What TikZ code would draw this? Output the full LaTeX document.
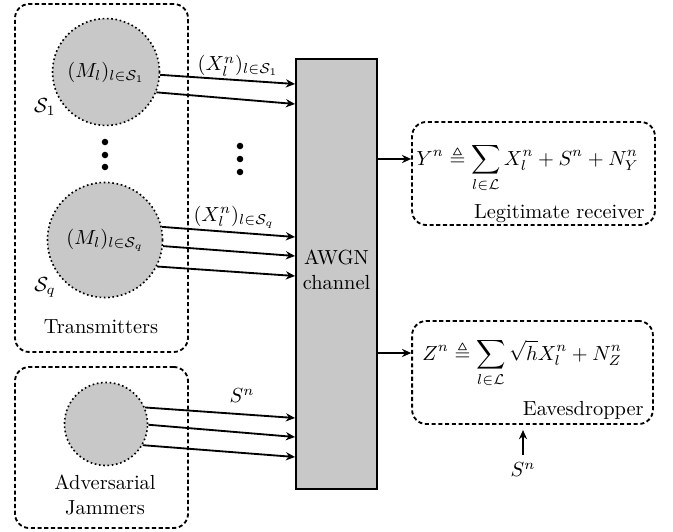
\documentclass[tikz,border=0pt]{standalone}
\usepackage{amsmath,amssymb}
\usetikzlibrary{arrows.meta}
\definecolor{fillgray}{RGB}{200,200,200}
\begin{document}
\begin{tikzpicture}[x=0.49pt,y=-0.49pt,
  groupbox/.style={draw, line width=0.9pt, dash pattern=on 2pt off 1.3pt, rounded corners=7pt, inner sep=0pt},
  srcnode/.style={circle, draw, fill=fillgray, line width=0.8pt, dash pattern=on 0.8pt off 1.3pt, inner sep=0pt},
  chan/.style={draw, fill=fillgray, line width=0.9pt, inner sep=0pt, align=center},
  arr/.style={line width=0.9pt, -{Stealth[length=4.5pt,width=4pt]}},
  dotmark/.style={circle, fill=black, inner sep=0pt, minimum size=3.2pt},
  lbl/.style={inner sep=0pt}
]
\useasboundingbox (0,0) rectangle (673,531);

% boxes
\node[groupbox, minimum width=84.8pt, minimum height=170.5pt] (tx) at (101.5,178) {};
\node[groupbox, minimum width=84.8pt, minimum height=78.9pt] (jam) at (101.5,447.5) {};
\node[chan, minimum width=39.7pt, minimum height=210.7pt] (awgn) at (336.5,274) {};
\node[lbl, align=center] (awgntxt) at (336.5,270) {AWGN\\channel};
\node[groupbox, minimum width=119pt, minimum height=50.5pt] (rx) at (533.5,173.5) {};
\node[groupbox, minimum width=118pt, minimum height=50.5pt] (eve) at (532.5,372.5) {};

% sources
\node[srcnode, minimum size=52.4pt] (c1) at (106,72) {$(M_l)_{l\in\mathcal{S}_1}$};
\node[srcnode, minimum size=56.4pt] (c2) at (105,240) {$(M_l)_{l\in\mathcal{S}_q}$};
\node[srcnode, minimum size=40.7pt] (c3) at (106,424) {};

\node[lbl] (s1) at (45,107) {$\mathcal{S}_1$};
\node[lbl] (sq) at (45,287) {$\mathcal{S}_q$};
\node[lbl] (txlbl) at (101,327) {Transmitters};
\node[lbl, align=center] (jamlbl) at (105,495) {Adversarial\\Jammers};

% dots
\node[dotmark] (d1) at (105,142) {};
\node[dotmark] (d2) at (105,155) {};
\node[dotmark] (d3) at (105,167) {};
\node[dotmark] (d4) at (240,146) {};
\node[dotmark] (d5) at (240,159) {};
\node[dotmark] (d6) at (240,172) {};

% end coordinates
\coordinate (e1) at (0,84);
\coordinate (e2) at (0,104);
\coordinate (e3) at (0,237);
\coordinate (e4) at (0,256);
\coordinate (e5) at (0,276);
\coordinate (e6) at (0,418);
\coordinate (e7) at (0,437);
\coordinate (e8) at (0,457);
\coordinate (ry) at (0,159);
\coordinate (zy) at (0,353);

\draw[arr] (c1.-3) -- (awgn.west |- e1);
\draw[arr] (c1.-22) -- (awgn.west |- e2);
\draw[arr] (c2.13) -- (awgn.west |- e3);
\draw[arr] (c2.-6) -- (awgn.west |- e4);
\draw[arr] (c2.-27) -- (awgn.west |- e5);
\draw[arr] (c3.23) -- (awgn.west |- e6);
\draw[arr] (c3.-1) -- (awgn.west |- e7);
\draw[arr] (c3.-30) -- (awgn.west |- e8);

\node[lbl] (x1) at (238,66) {$(X_l^n)_{l\in\mathcal{S}_1}$};
\node[lbl] (xq) at (234,217) {$(X_l^n)_{l\in\mathcal{S}_q}$};
\node[lbl] (sj) at (242,396) {$S^n$};

% outputs
\draw[arr] (awgn.east |- ry) -- (rx.west |- ry);
\draw[arr] (awgn.east |- zy) -- (eve.west |- zy);

\node[lbl, anchor=base west] (yf) at (416,165) {$\displaystyle Y^n \triangleq \sum_{l\in\mathcal{L}} X_l^n + S^n + N_Y^n$};
\node[lbl, anchor=base east] (rxlbl) at (645,218) {Legitimate receiver};
\node[lbl, anchor=base west] (zf) at (422,360) {$\displaystyle Z^n \triangleq \sum_{l\in\mathcal{L}} \sqrt{h}X_l^n + N_Z^n$};
\node[lbl, anchor=base east] (evelbl) at (644,415) {Eavesdropper};

\node[lbl] (se) at (523,470) {$S^n$};
\coordinate (setop) at (523,455);
\draw[arr, shorten >=2.5pt] (setop) -- (setop |- eve.south);
\end{tikzpicture}
\end{document}
